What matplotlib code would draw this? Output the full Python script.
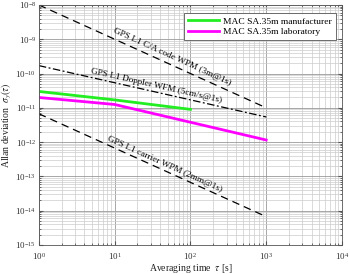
import matplotlib
matplotlib.use("Agg")
import matplotlib.pyplot as plt
from matplotlib.ticker import LogLocator, NullFormatter

plt.rcParams['font.family'] = ['Liberation Serif', 'DejaVu Serif']
plt.rcParams['mathtext.fontset'] = 'stix'

# data
tau_ref = [1, 1000]
ca_code = [1e-8, 1e-11]
doppler = [1.7e-10, 5.4e-12]
carrier = [6.7e-12, 6.7e-15]
tau_manu = [1, 10, 100]
manu = [3.0e-11, 1.7e-11, 9.0e-12]
tau_lab = [1, 10, 1000]
lab = [2.0e-11, 1.25e-11, 1.15e-12]

fig = plt.figure(figsize=(3.5, 2.74), dpi=100)
ax = fig.add_axes([0.111, 0.106, 0.866, 0.876])

ax.plot(tau_ref, ca_code, color='black', lw=0.9, dashes=(6, 4))
ax.plot(tau_ref, doppler, color='black', lw=0.9, dashes=(6, 2, 1.5, 2))
ax.plot(tau_ref, carrier, color='black', lw=0.9, dashes=(6, 4))
ax.plot(tau_manu, manu, color='#22ee22', lw=2, label='MAC SA.35m manufacturer')
ax.plot(tau_lab, lab, color='#ff00ff', lw=2, label='MAC SA.35m laboratory')

ax.set_xscale('log')
ax.set_yscale('log')
ax.set_xlim(1, 1e4)
ax.set_ylim(1e-15, 1e-8)

ax.xaxis.set_major_locator(LogLocator(base=10, numticks=10))
ax.yaxis.set_major_locator(LogLocator(base=10, numticks=10))
ax.xaxis.set_minor_locator(LogLocator(base=10, subs=range(2, 10), numticks=100))
ax.yaxis.set_minor_locator(LogLocator(base=10, subs=range(2, 10), numticks=100))
ax.xaxis.set_minor_formatter(NullFormatter())
ax.yaxis.set_minor_formatter(NullFormatter())

ax.grid(True, which='major', color='#999999', lw=0.6)
ax.grid(True, which='minor', color='#cccccc', lw=0.5)
ax.tick_params(which='both', direction='in', top=True, right=True, labelsize=6.5,
               colors='#555555', labelcolor='#333333')
ax.tick_params(axis='y', pad=2)
ax.tick_params(axis='x', pad=4)
ax.tick_params(which='major', length=3)
ax.tick_params(which='minor', length=1.5)
for s in ax.spines.values():
    s.set_color('#555555')
    s.set_linewidth(0.6)

ax.set_xlabel(r'Averaging time  $\tau$ [s]', fontsize=7, labelpad=0.5, color='#222222')
ax.set_ylabel(r'Allan deviation  $\sigma_y(\tau)$', fontsize=7, labelpad=1, color='#222222')

ax.text(57, 3.0e-10, 'GPS L1 C/A code WPM (3m@1s)', rotation=-24.4, fontsize=6.7,
        ha='center', va='center', rotation_mode='anchor')
ax.text(36, 4.4e-11, 'GPS L1 Doppler WFM (5cm/s@1s)', rotation=-12.7, fontsize=6.7,
        ha='center', va='center', rotation_mode='anchor')
ax.text(46, 2.2e-13, 'GPS L1 carrier WPM (2mm@1s)', rotation=-24.4, fontsize=6.7,
        ha='center', va='center', rotation_mode='anchor')

leg = ax.legend(loc='upper right', fontsize=6.8, handlelength=3.3, borderpad=0.4,
                labelspacing=0.2, handletextpad=0.4, fancybox=False, framealpha=1,
                edgecolor='#555555', bbox_to_anchor=(0.995, 0.985))
leg.get_frame().set_linewidth(0.6)

fig.savefig('out.png', dpi=100)
